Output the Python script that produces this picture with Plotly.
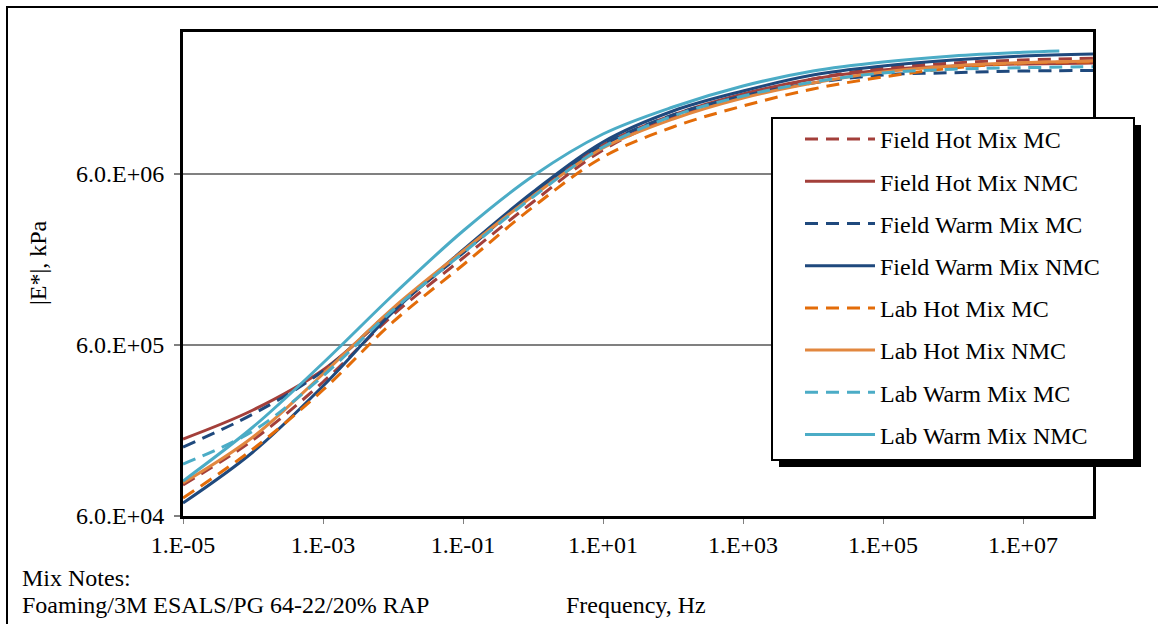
import plotly.graph_objects as go

# ---------------- data ----------------
freq = [1e-5, 1e-4, 1e-3, 1e-2, 1e-1, 1e0, 1e1, 1e2, 1e3, 1e4, 1e5, 1e6, 1e7, 1e8]
freq_lw_nmc = [1e-5, 1e-4, 1e-3, 1e-2, 1e-1, 1e0, 1e1, 1e2, 1e3, 1e4, 1e5, 1e6, 1e7, 3.3e7]

field_hot_mc = [91090, 166960, 364600, 898600, 1936500, 4115500, 8289000, 12926400,
                17151000, 21562800, 25005600, 26745600, 27849600, 28494000]
field_hot_nmc = [169200, 250000, 428500, 961200, 2098900, 4583400, 8866200, 13279200,
                 17619000, 21562800, 24341400, 25687800, 26388600, 26745600]
field_warm_mc = [151900, 236900, 422800, 974200, 2070800, 4583400, 8866200, 13279200,
                 17151000, 20430600, 22756800, 23472600, 24015600, 24177600]
field_warm_nmc = [71480, 142100, 345500, 935600, 2156300, 4709000, 9231600, 14014200,
                  18345000, 22756800, 25687800, 27849600, 29391600, 30193800]
lab_hot_mc = [76450, 147900, 327400, 817900, 1762300, 3847800, 7543800, 11298600,
              14989200, 18846000, 22152000, 25005600, 26745600, 27108600]
lab_hot_nmc = [93580, 173800, 406000, 987400, 2127300, 4461800, 8515200, 12585000,
               16695600, 20430600, 23694600, 25687800, 26854200, 27475800]
lab_warm_mc = [120800, 188500, 395300, 961200, 2070800, 4402100, 8630400, 13101600,
               17151000, 20707200, 23377800, 24571200, 25107000, 25447200]
lab_warm_nmc = [96140, 198900, 470900, 1176300, 2785000, 5840600, 10281000, 14788800,
                19621800, 24015600, 27108600, 29391600, 30893400, 31438200]

series_names = ["Field Hot Mix MC", "Field Hot Mix NMC", "Field Warm Mix MC", "Field Warm Mix NMC",
                "Lab Hot Mix MC", "Lab Hot Mix NMC", "Lab Warm Mix MC", "Lab Warm Mix NMC"]
series_x = [freq, freq, freq, freq, freq, freq, freq, freq_lw_nmc]
series_y = [field_hot_mc, field_hot_nmc, field_warm_mc, field_warm_nmc,
            lab_hot_mc, lab_hot_nmc, lab_warm_mc, lab_warm_nmc]

x_tickvals = [1e-5, 1e-3, 1e-1, 1e1, 1e3, 1e5, 1e7]
x_ticktext = ["1.E-05", "1.E-03", "1.E-01", "1.E+01", "1.E+03", "1.E+05", "1.E+07"]
y_tickvals = [6e4, 6e5, 6e6]
y_ticktext = ["6.0.E+04", "6.0.E+05", "6.0.E+06"]

# ---------------- styles ----------------
colors = ["#A33F3A", "#A33F3A", "#1F497D", "#1F497D", "#E36C09", "#E2873F", "#4BACC6", "#4BACC6"]
dashes = ["13px,8px", "solid", "13px,8px", "solid", "13px,8px", "solid", "13px,8px", "solid"]
FONT = "Liberation Serif, Times New Roman, serif"
FS = 24

W, H = 1158, 624
L, R, T, B = 183, 65, 32, 108
PW, PH = W - L - R, H - T - B


def xp(px):
    return (px - L) / PW


def yp(py):
    return (H - B - py) / PH


fig = go.Figure()
for name, xs, ys, c, d in zip(series_names, series_x, series_y, colors, dashes):
    fig.add_trace(go.Scatter(
        x=xs, y=ys, mode="lines", name=name, legendgroup=name,
        line=dict(color=c, width=3, dash=d, shape="spline", smoothing=1.0),
    ))

shapes = [
    # outer chart border (partly cropped in the reference)
    dict(type="rect", xref="paper", yref="paper", x0=xp(7), x1=xp(1200), y0=yp(680), y1=yp(7),
         line=dict(color="black", width=2), fillcolor="rgba(0,0,0,0)", layer="below"),
    # legend shadow
    dict(type="rect", xref="paper", yref="paper", x0=xp(779), x1=xp(1141), y0=yp(467), y1=yp(125),
         line=dict(color="black", width=0), fillcolor="black", layer="above"),
    # legend box
    dict(type="rect", xref="paper", yref="paper", x0=xp(772), x1=xp(1134), y0=yp(460), y1=yp(118),
         line=dict(color="black", width=2), fillcolor="white", layer="above"),
]

tfont = dict(family=FONT, size=FS, color="black")
annotations = [
    dict(text="Frequency, Hz", xref="paper", yref="paper", x=xp(636), y=yp(605),
         xanchor="center", yanchor="middle", showarrow=False, font=tfont),
    dict(text="Mix Notes:", xref="paper", yref="paper", x=xp(20), y=yp(578),
         xanchor="left", yanchor="middle", showarrow=False, font=tfont),
    dict(text="Foaming/3M ESALS/PG 64-22/20% RAP", xref="paper", yref="paper", x=xp(20), y=yp(605),
         xanchor="left", yanchor="middle", showarrow=False, font=tfont),
    dict(text="|E*|, kPa", xref="paper", yref="paper", x=xp(38), y=yp(263), textangle=-90,
         xanchor="center", yanchor="middle", showarrow=False, font=tfont),
]

fig.update_layout(
    width=W, height=H,
    margin=dict(l=L, r=R, t=T, b=B, pad=0),
    paper_bgcolor="white", plot_bgcolor="white",
    font=tfont,
    showlegend=True,
    legend=dict(x=xp(800), y=yp(117), xanchor="left", yanchor="top",
                bgcolor="rgba(0,0,0,0)", borderwidth=0,
                font=tfont,
                itemwidth=70, tracegroupgap=8, traceorder="grouped"),
    shapes=shapes,
    annotations=annotations,
)

fig.update_xaxes(
    type="log", range=[-5, 8], tickvals=x_tickvals, ticktext=x_ticktext,
    showgrid=False, zeroline=False,
    showline=True, linecolor="black", linewidth=3, mirror=True,
    ticks="outside", ticklen=5, tickcolor="#808080", tickwidth=1,
    tickfont=tfont,
)
fig.update_yaxes(
    type="log", range=[4.7782, 7.6085], tickvals=y_tickvals, ticktext=y_ticktext,
    showgrid=True, gridcolor="#808080", gridwidth=1.5, zeroline=False,
    showline=True, linecolor="black", linewidth=3, mirror=True,
    ticks="outside", ticklen=6, tickcolor="#808080", tickwidth=1.5,
    ticklabelstandoff=5,
    tickfont=tfont,
)

fig.write_html("out.html", config={"displayModeBar": False},
               post_script="document.body.style.margin='0px';")
